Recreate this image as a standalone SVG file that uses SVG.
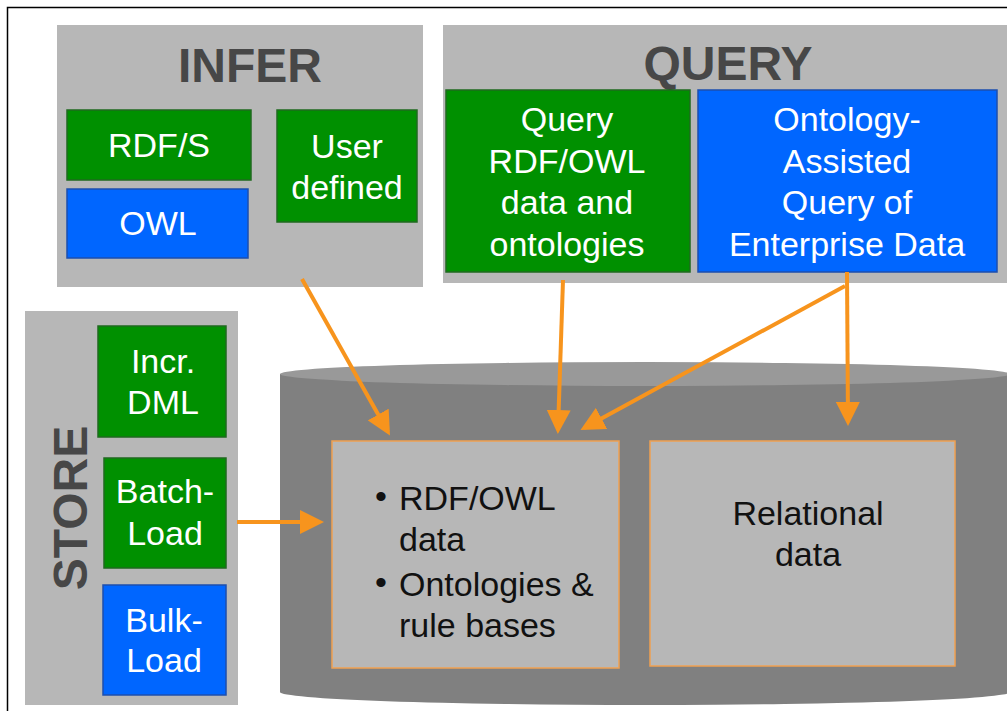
<svg xmlns="http://www.w3.org/2000/svg" width="1007" height="711" viewBox="0 0 1007 711">
<style>
.panel{fill:#b7b7b7;}
.g{fill:#009000;stroke:#1f6a1f;stroke-width:1.5;}
.b{fill:#0066ff;stroke:#1d4fae;stroke-width:1.5;}
.in{fill:#b7b7b7;stroke:#f0a050;stroke-width:1.5;}
.wt{font-family:"Liberation Sans",Arial,sans-serif;font-size:34px;fill:#ffffff;text-anchor:middle;}
.bt{font-family:"Liberation Sans",Arial,sans-serif;font-size:34px;fill:#111111;}
.title{font-family:"Liberation Sans",Arial,sans-serif;font-size:48px;font-weight:bold;fill:#474747;text-anchor:middle;}
.arr{stroke:#f7941d;stroke-width:4;fill:none;marker-end:url(#ah);}
</style>
<defs>
<marker id="ah" markerWidth="6" markerHeight="6" refX="5" refY="3" orient="auto" markerUnits="strokeWidth">
<path d="M0,0 L6,3 L0,6 z" fill="#f7941d"/>
</marker>
</defs>
<rect x="0" y="0" width="1007" height="711" fill="#ffffff"/>
<rect x="7.5" y="7.5" width="1010" height="712" fill="none" stroke="#000" stroke-width="1.5"/>

<g id="infer">
<rect class="panel" x="57" y="25" width="366" height="262"/>
<text class="title" x="250" y="82">INFER</text>
</g>
<g id="rdfs"><rect class="g" x="67" y="110" width="184" height="70"/><text class="wt" x="159" y="157">RDF/S</text></g>
<g id="owl"><rect class="b" x="67" y="189" width="181" height="69"/><text class="wt" x="158" y="235">OWL</text></g>
<g id="userdef"><rect class="g" x="277" y="110" width="140" height="112"/><text class="wt" x="347" y="158">User</text><text class="wt" x="347" y="199">defined</text></g>

<g id="query">
<rect class="panel" x="443" y="25" width="564" height="258"/>
<text class="title" x="728" y="80">QUERY</text>
</g>
<g id="queryrdf"><rect class="g" x="446" y="90" width="244" height="182"/>
<text class="wt" x="567" y="131">Query</text><text class="wt" x="567" y="173">RDF/OWL</text><text class="wt" x="567" y="214">data and</text><text class="wt" x="567" y="256">ontologies</text></g>
<g id="ontoquery"><rect class="b" x="698" y="90" width="299" height="182"/>
<text class="wt" x="847" y="131">Ontology-</text><text class="wt" x="847" y="173">Assisted</text><text class="wt" x="847" y="214">Query of</text><text class="wt" x="847" y="256">Enterprise Data</text></g>

<g id="store">
<rect class="panel" x="25" y="311" width="213" height="394"/>
<text class="title" transform="translate(87,508) rotate(-90)" x="0" y="0">STORE</text>
</g>
<g id="incr"><rect class="g" x="98" y="326" width="128" height="111"/><text class="wt" x="163" y="373">Incr.</text><text class="wt" x="163" y="414">DML</text></g>
<g id="batch"><rect class="g" x="104" y="458" width="122" height="110"/><text class="wt" x="165" y="503">Batch-</text><text class="wt" x="165" y="545">Load</text></g>
<g id="bulk"><rect class="b" x="103" y="585" width="123" height="110"/><text class="wt" x="164" y="632">Bulk-</text><text class="wt" x="164" y="672">Load</text></g>

<g id="database">
<path d="M280,374 L280,692 A365,13 0 0 0 1010,692 L1010,374 Z" fill="#808080"/>
<ellipse cx="645" cy="374" rx="365" ry="12" fill="#999999"/>
</g>
<g id="rdfdata"><rect class="in" x="332" y="441" width="287" height="227"/>
<text class="bt" x="375" y="508">•</text><text class="bt" x="399" y="510">RDF/OWL</text>
<text class="bt" x="399" y="551">data</text>
<text class="bt" x="375" y="594">•</text><text class="bt" x="399" y="596">Ontologies &amp;</text>
<text class="bt" x="399" y="637">rule bases</text></g>
<g id="relational"><rect class="in" x="650" y="441" width="305" height="225"/>
<text class="bt" x="808" y="525" text-anchor="middle">Relational</text>
<text class="bt" x="808" y="566" text-anchor="middle">data</text></g>

<g id="connectors">
<line class="arr" x1="302" y1="279" x2="388" y2="432"/>
<line class="arr" x1="563" y1="280" x2="558" y2="430"/>
<line class="arr" x1="847" y1="272" x2="848" y2="422"/>
<line class="arr" x1="845" y1="286" x2="584" y2="428"/>
<line class="arr" x1="237" y1="522" x2="320" y2="522"/>
</g>
</svg>
